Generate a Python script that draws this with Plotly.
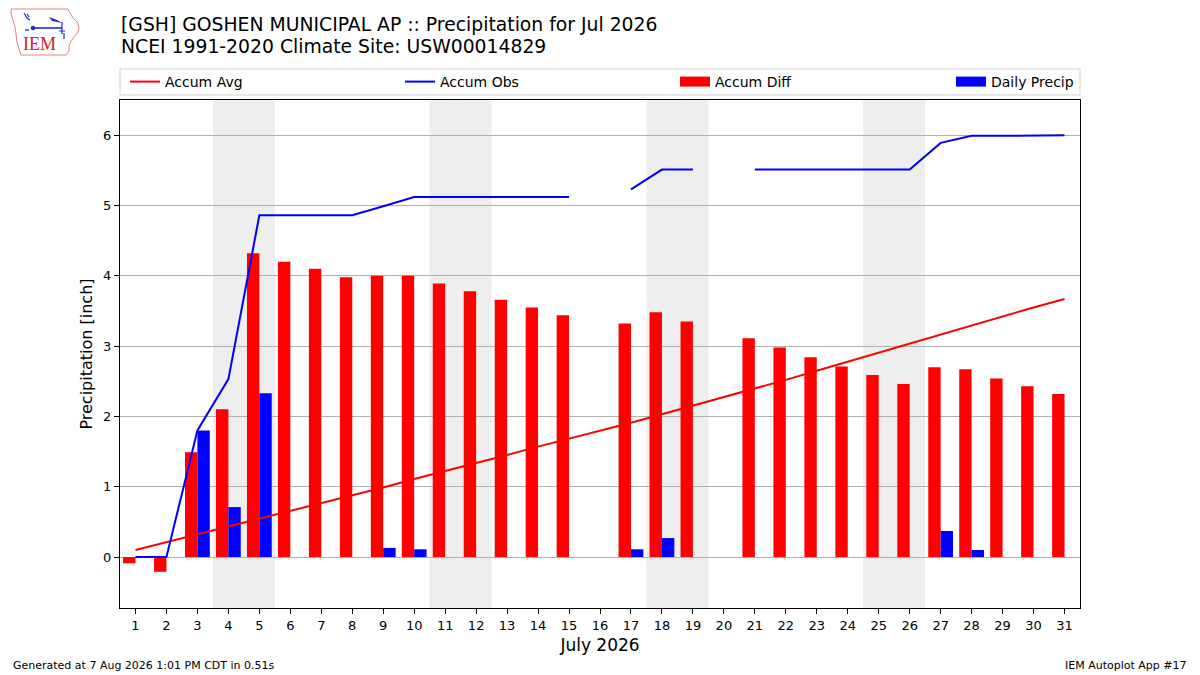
import base64
import plotly.graph_objects as go

# ---------------- data ----------------
days = list(range(1, 32))
accum_avg = [0.10, 0.21, 0.32, 0.43, 0.54, 0.66, 0.77, 0.88, 0.99, 1.11,
             1.22, 1.34, 1.45, 1.57, 1.68, 1.80, 1.91, 2.03, 2.15, 2.27,
             2.39, 2.52, 2.65, 2.78, 2.91, 3.04, 3.17, 3.30, 3.42, 3.55, 3.67]
accum_obs = [0.00, 0.00, 1.80, 2.53, 4.86, 4.86, 4.86, 4.86, 4.99, 5.12,
             5.12, 5.12, 5.12, 5.12, 5.12, None, 5.23, 5.51, 5.51, None,
             5.51, 5.51, 5.51, 5.51, 5.51, 5.51, 5.89, 5.99, 5.99, 5.99, 6.00]
accum_diff = [-0.09, -0.21, 1.49, 2.10, 4.32, 4.20, 4.10, 3.98, 4.00, 4.00,
              3.89, 3.78, 3.66, 3.55, 3.44, None, 3.32, 3.48, 3.35, None,
              3.11, 2.98, 2.84, 2.71, 2.59, 2.46, 2.70, 2.67, 2.54, 2.43, 2.32]
daily_precip = [0.00, 0.00, 1.80, 0.71, 2.33, 0.00, 0.00, 0.00, 0.13, 0.11,
                0.00, 0.00, 0.00, 0.00, 0.00, None, 0.11, 0.27, 0.00, None,
                0.00, 0.00, 0.00, 0.00, 0.00, 0.00, 0.37, 0.10, 0.00, 0.00, 0.00]
weekend_days = [4, 5, 11, 12, 18, 19, 25, 26]
ytick_vals = [0, 1, 2, 3, 4, 5, 6]

title_line1 = "[GSH] GOSHEN MUNICIPAL AP :: Precipitation for Jul 2026"
title_line2 = "NCEI 1991-2020 Climate Site: USW00014829"

FONT = "DejaVu Sans"
W, H = 1200, 675
L, R, T, B = 120, 1080, 100, 608


def px(x):
    return (x - L) / (R - L)


def py(y):
    return (B - y) / (B - T)


fig = go.Figure()
fig.add_trace(go.Scatter(x=days, y=accum_avg, mode="lines", name="Accum Avg",
                         line=dict(color="#ff0000", width=2), legend="legend"))
fig.add_trace(go.Scatter(x=days, y=accum_obs, mode="lines", name="Accum Obs",
                         line=dict(color="#0000ff", width=2), connectgaps=False,
                         legend="legend2"))
fig.add_trace(go.Bar(x=days, y=accum_diff, name="Accum Diff", width=0.4, offset=-0.4,
                     marker=dict(color="#ff0000", line=dict(width=0)), showlegend=False))
fig.add_trace(go.Bar(x=days, y=daily_precip, name="Daily Precip", width=0.4, offset=0.0,
                     marker=dict(color="#0000ff", line=dict(width=0)), showlegend=False))
# legend entries with wide rectangular swatches like the reference
fig.add_trace(go.Scatter(x=[None], y=[None], mode="lines", name="Accum Diff",
                         line=dict(color="#ff0000", width=10), legend="legend3"))
fig.add_trace(go.Scatter(x=[None], y=[None], mode="lines", name="Daily Precip",
                         line=dict(color="#0000ff", width=10), legend="legend4"))

shapes = []
for d in weekend_days:
    shapes.append(dict(type="rect", xref="x", yref="paper", x0=d - 0.5, x1=d + 0.5,
                       y0=0, y1=1, fillcolor="#eeeeee", line=dict(width=0), layer="below"))
# legend frame
shapes.append(dict(type="rect", xref="paper", yref="paper", x0=px(120), x1=px(1080),
                   y0=py(95), y1=py(69), line=dict(color="#d0d0d0", width=1),
                   fillcolor="rgba(255,255,255,0)", layer="below"))

# IEM logo (outline + glyph)
svg = """<svg xmlns='http://www.w3.org/2000/svg' width='80' height='60' viewBox='0 0 80 60'>
<path d='M9,7 L66,7 L68,11 L71,16 L75,20 L77,25 L76,30 L72,35 L69,39 L67,44 L67,49 L64,53 L19,53 L17,47 L15,40 L14,32 L13,25 L11,18 L9,12 Z'
 fill='none' stroke='#e88080' stroke-width='1'/>
<path d='M22,11 L25,16 L28,18 M25,12 L27,15' stroke='#2030c0' stroke-width='1.2' fill='none'/>
<circle cx='31' cy='26' r='2.3' fill='#2030c0'/>
<path d='M31,26 L60,26' stroke='#2030c0' stroke-width='1.6'/>
<path d='M47,15 L55,18 L60,21 L50,19 Z' fill='#2030c0'/>
<path d='M60,20 L60,32 M57,29 L63,29 M62,31 L62,37' stroke='#2030c0' stroke-width='1.2' fill='none'/>
<circle cx='24' cy='28' r='0.9' fill='#2030c0'/><circle cx='26' cy='28' r='0.9' fill='#2030c0'/>
</svg>"""
logo_src = "data:image/svg+xml;base64," + base64.b64encode(svg.encode()).decode()

annotations = [
    dict(text=title_line1, xref="paper", yref="paper", x=px(119), y=py(24),
         xanchor="left", yanchor="middle", showarrow=False,
         font=dict(family=FONT, size=18.8, color="#000000")),
    dict(text=title_line2, xref="paper", yref="paper", x=px(119), y=py(47),
         xanchor="left", yanchor="middle", showarrow=False,
         font=dict(family=FONT, size=18.8, color="#000000")),
    dict(text="IEM", xref="paper", yref="paper", x=px(21), y=py(44), xanchor="left",
         yanchor="middle", showarrow=False,
         font=dict(family="Liberation Serif", size=18, color="#d62020")),
    dict(text="Generated at 7 Aug 2026 1:01 PM CDT in 0.51s", xref="paper", yref="paper",
         x=px(11), y=py(665), xanchor="left", yanchor="middle", showarrow=False,
         font=dict(family=FONT, size=11, color="#000000")),
    dict(text="IEM Autoplot App #17", xref="paper", yref="paper",
         x=px(1189), y=py(665), xanchor="right", yanchor="middle", showarrow=False,
         font=dict(family=FONT, size=11, color="#000000")),
]


def leg(xpix):
    return dict(orientation="h", x=px(xpix), xanchor="left", y=py(82), yanchor="middle",
                bgcolor="rgba(255,255,255,0)", borderwidth=0,
                font=dict(family=FONT, size=14, color="#000000"))


fig.update_layout(
    width=W, height=H,
    margin=dict(l=L, r=W - R, t=T, b=H - B),
    paper_bgcolor="white", plot_bgcolor="white",
    font=dict(family=FONT, size=13, color="#000000"),
    barmode="overlay",
    legend=leg(125), legend2=leg(400), legend3=leg(675), legend4=leg(951),
    shapes=shapes,
    annotations=annotations,
    images=[dict(source=logo_src, xref="paper", yref="paper", x=px(2), y=py(2),
                 sizex=80 / (R - L), sizey=60 / (B - T), xanchor="left", yanchor="top",
                 sizing="stretch", layer="above")],
    showlegend=True,
)
fig.update_xaxes(range=[0.5, 31.5], tickmode="array", tickvals=days,
                 ticktext=[str(d) for d in days], ticks="outside", ticklen=5,
                 tickcolor="black", showgrid=False, zeroline=False,
                 showline=True, linecolor="black", linewidth=1, mirror=True,
                 title=dict(text="July 2026", font=dict(family=FONT, size=17), standoff=7),
                 tickfont=dict(family=FONT, size=13))
fig.update_yaxes(range=[-0.725, 6.5], tickmode="array", tickvals=ytick_vals,
                 ticks="outside", ticklen=5, tickcolor="black",
                 showgrid=True, gridcolor="#b0b0b0", gridwidth=1, zeroline=False,
                 showline=True, linecolor="black", linewidth=1, mirror=True,
                 title=dict(text="Precipitation [inch]", font=dict(family=FONT, size=16), standoff=6),
                 tickfont=dict(family=FONT, size=13))

fig.write_html("out.html", config={"displayModeBar": False},
               post_script="document.body.style.margin='0';document.body.style.padding='0';")
